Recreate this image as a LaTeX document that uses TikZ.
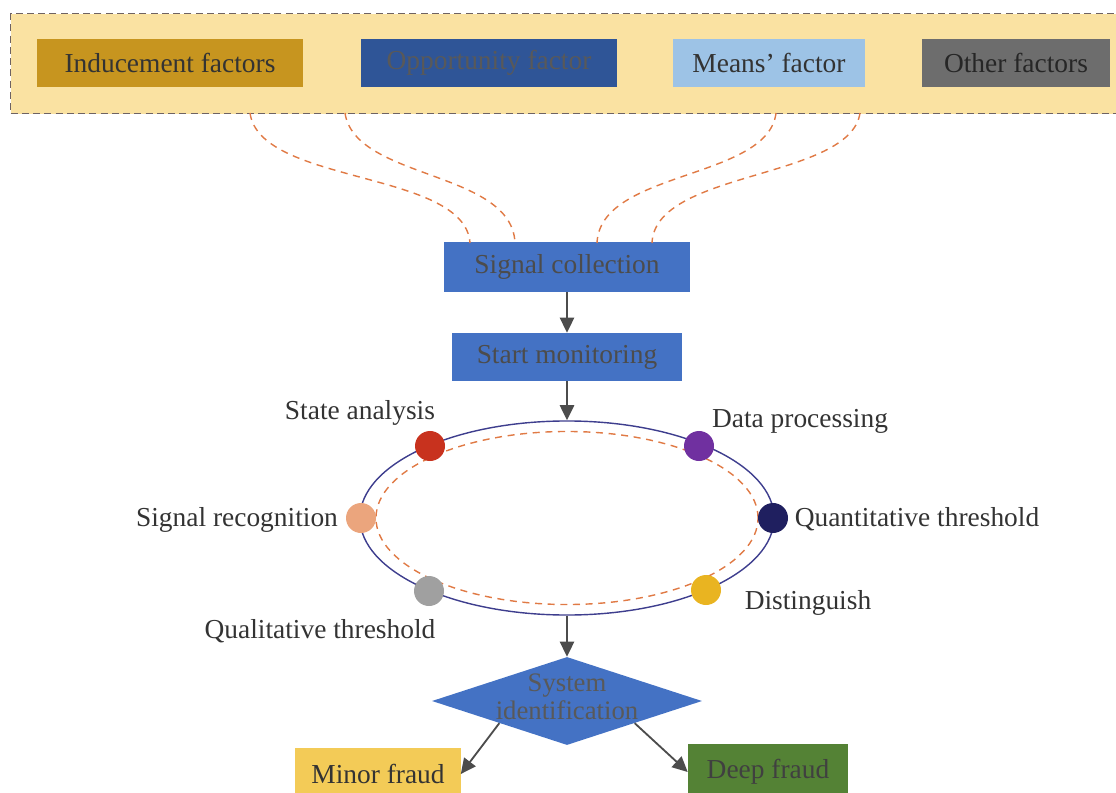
\documentclass[tikz,border=0pt]{standalone}
\usepackage{fontspec}
\setmainfont{Liberation Serif}
\usetikzlibrary{shapes.geometric,arrows.meta}

\definecolor{bandfill}{HTML}{FAE2A2}
\definecolor{bandline}{HTML}{6E6262}
\definecolor{inducegold}{HTML}{C7951F}
\definecolor{opporblue}{HTML}{2F5597}
\definecolor{meansblue}{HTML}{9DC3E6}
\definecolor{othergray}{HTML}{6D6D6D}
\definecolor{stageblue}{HTML}{4472C4}
\definecolor{feedorange}{HTML}{E07A45}
\definecolor{ringnavy}{HTML}{3E3E8E}
\definecolor{minorgold}{HTML}{F3CB57}
\definecolor{deepgreen}{HTML}{548235}

\tikzset{factor/.style = {rectangle, minimum height=1.175cm, inner sep=0pt, text=black!80},
         stage/.style = {rectangle, fill=stageblue, minimum height=1.2cm, inner sep=0pt, text=black!70},
         dot/.style = {circle, minimum size=0.75cm, inner sep=0pt},
         tag/.style = {text=black!80, inner sep=0pt},
         flow/.style = {-{Triangle[length=3.8mm,width=3.6mm]}, black!70, line width=1.3pt},
         feed/.style = {draw=feedorange, line width=1pt, dash pattern=on 5pt off 4pt}
        }

\begin{document}
\begin{tikzpicture}[x=0.025cm, y=-0.025cm, font=\fontsize{19.5}{22}\selectfont]
\useasboundingbox (0,0) rectangle (1116,793);

\node[draw=bandline, fill=bandfill, line width=1pt, dash pattern=on 5pt off 3pt,
      minimum width=28cm, minimum height=2.5cm, anchor=north west] at (10,13) (band) {};
\node[factor, fill=inducegold, minimum width=6.65cm] at (170,63) (ind) {Inducement factors};
\node[factor, fill=opporblue, minimum width=6.4cm, text=black!65] at (489,63) (opp) {Opportunity factor};
\node[factor, fill=meansblue, minimum width=4.8cm] at (769,63) (mea) {Means' factor};
\node[factor, fill=othergray, minimum width=4.675cm, text=black!85] at (1016,63) (oth) {Other factors};

\node[stage, minimum width=6.125cm, minimum height=1.225cm] at (567,267) (sig) {Signal collection};
\node[stage, minimum width=5.725cm] at (567,357) (mon) {Start monitoring};

\coordinate (b1) at (250,113);
\coordinate (b2) at (345,113);
\coordinate (b3) at (776,113);
\coordinate (b4) at (860,113);
\coordinate (s1) at (470,243);
\coordinate (s2) at (515,243);
\coordinate (s3) at (597,243);
\coordinate (s4) at (652,243);
\draw[feed] (b1) .. controls (260,185) and (465,170) .. (s1);
\draw[feed] (b2) .. controls (355,180) and (512,170) .. (s2);
\draw[feed] (b3) .. controls (768,180) and (600,170) .. (s3);
\draw[feed] (b4) .. controls (850,180) and (655,170) .. (s4);

\draw[flow] (sig) -- (mon);

\node[ellipse, draw=ringnavy, line width=1pt, inner sep=0pt,
      minimum width=10.35cm, minimum height=4.85cm] at (567,518) (ring) {};
\node[ellipse, feed, inner sep=0pt,
      minimum width=9.55cm, minimum height=4.325cm] at (567,518) (inner) {};

\draw[flow] (mon) -- (ring.north);

\node[dot, fill={rgb,255:red,200;green,50;blue,30}] at (430,446) (sa) {};
\node[dot, fill={rgb,255:red,112;green,48;blue,160}] at (699,446) (dp) {};
\node[dot, fill={rgb,255:red,235;green,165;blue,125}] at (361,518) (sr) {};
\node[dot, fill={rgb,255:red,31;green,31;blue,95}] at (773,518) (qt) {};
\node[dot, fill={rgb,255:red,160;green,160;blue,160}] at (429,591) (ql) {};
\node[dot, fill={rgb,255:red,233;green,180;blue,33}] at (706,590) (di) {};

\node[tag] at (360,413) (sat) {State analysis};
\node[tag] at (800,421) (dpt) {Data processing};
\node[tag] at (237,520) (srt) {Signal recognition};
\node[tag] at (917,519) (qtt) {Quantitative threshold};
\node[tag] at (320,631) (qlt) {Qualitative threshold};
\node[tag] at (808,603) (dit) {Distinguish};

\node[diamond, fill=stageblue, inner sep=0pt, aspect=3.1,
      minimum width=6.75cm, minimum height=2.2cm] at (567,701) (sys) {};
\node[tag, align=center, text=black!65, font=\fontsize{19}{20}\selectfont] at (567,697) (syst) {System\\identification};

\draw[flow] (ring.south) -- (sys.north);

\node[factor, fill=minorgold, minimum width=4.125cm, minimum height=1.3cm] at (378,774) (minor) {Minor fraud};
\node[factor, fill=deepgreen, minimum width=4cm, minimum height=1.375cm, text=black!75] at (768,772) (deep) {Deep fraud};

\draw[flow] (sys.south west) -- (minor.east);
\draw[flow] (sys.south east) -- (deep.west);
\end{tikzpicture}
\end{document}
